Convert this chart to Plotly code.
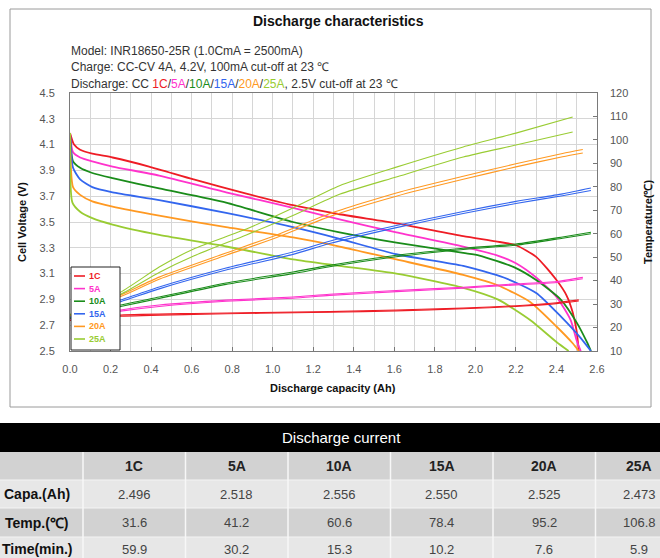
import plotly.graph_objects as go

# ---------------- data ----------------
rates = ["1C", "5A", "10A", "15A", "20A", "25A"]
colors = ["#ee1c25", "#ff33cc", "#1a8c1a", "#3366ee", "#ff9922", "#99cc33"]

# discharge voltage curves (capacity Ah, voltage V)
v_cap_1C = [0, 0.02, 0.05, 0.11, 0.21, 0.39, 0.61, 0.87, 1.10, 1.33, 1.61, 1.94, 2.10, 2.20, 2.30, 2.40, 2.45, 2.48, 2.50, 2.51]
v_1C = [4.19, 4.10, 4.06, 4.03, 4.00, 3.93, 3.83, 3.72, 3.63, 3.56, 3.49, 3.39, 3.35, 3.32, 3.23, 3.05, 2.93, 2.80, 2.65, 2.50]
v_cap_5A = [0, 0.015, 0.05, 0.11, 0.21, 0.44, 0.77, 1.10, 1.33, 1.61, 1.94, 2.11, 2.20, 2.30, 2.40, 2.47, 2.50, 2.52]
v_5A = [4.19, 4.04, 4.00, 3.97, 3.93, 3.86, 3.73, 3.61, 3.52, 3.42, 3.31, 3.24, 3.18, 3.07, 2.92, 2.74, 2.58, 2.50]
v_cap_10A = [0, 0.015, 0.05, 0.11, 0.21, 0.44, 0.77, 1.10, 1.33, 1.61, 1.94, 2.02, 2.19, 2.30, 2.42, 2.50, 2.55, 2.57]
v_10A = [4.19, 3.97, 3.92, 3.88, 3.84, 3.76, 3.65, 3.50, 3.42, 3.34, 3.26, 3.24, 3.15, 3.05, 2.90, 2.72, 2.57, 2.50]
v_cap_15A = [0, 0.015, 0.05, 0.11, 0.21, 0.44, 0.77, 1.10, 1.33, 1.61, 1.94, 2.14, 2.30, 2.42, 2.52, 2.57]
v_15A = [4.19, 3.92, 3.83, 3.77, 3.73, 3.67, 3.57, 3.46, 3.37, 3.25, 3.16, 3.07, 2.95, 2.77, 2.60, 2.50]
v_cap_20A = [0, 0.015, 0.05, 0.11, 0.21, 0.44, 0.77, 1.10, 1.33, 1.61, 1.94, 2.11, 2.27, 2.40, 2.48, 2.51]
v_20A = [4.19, 3.77, 3.71, 3.66, 3.62, 3.55, 3.46, 3.38, 3.31, 3.21, 3.09, 3.01, 2.88, 2.69, 2.56, 2.50]
v_cap_25A = [0, 0.012, 0.05, 0.11, 0.21, 0.44, 0.77, 1.10, 1.33, 1.61, 1.94, 2.11, 2.27, 2.40, 2.46]
v_25A = [4.19, 3.65, 3.58, 3.53, 3.48, 3.40, 3.31, 3.21, 3.16, 3.10, 2.99, 2.90, 2.74, 2.57, 2.50]

# temperature curves (two cells per rate)
t_cap_1C = [0, 0.25, 0.61, 0.94, 1.28, 1.61, 1.94, 2.20, 2.40, 2.51]
t_1C_a = [23.0, 25.3, 26.0, 26.4, 26.8, 27.5, 28.3, 29.3, 30.6, 31.8]
t_1C_b = [23.0, 24.8, 25.6, 26.1, 26.5, 27.1, 28.0, 29.0, 30.2, 31.3]
t_cap_5A = [0, 0.25, 0.44, 0.77, 1.10, 1.28, 1.61, 1.94, 2.20, 2.40, 2.53]
t_5A_a = [23.5, 27.5, 29.6, 31.7, 33.0, 34.2, 35.8, 37.2, 38.6, 39.6, 41.4]
t_5A_b = [23.5, 27.0, 29.0, 31.2, 32.5, 33.7, 35.3, 36.8, 38.2, 39.2, 40.8]
t_cap_10A = [0, 0.25, 0.44, 0.77, 1.10, 1.28, 1.61, 1.94, 2.20, 2.43, 2.57]
t_10A_a = [24.0, 29.6, 33.0, 39.0, 43.7, 46.5, 50.8, 53.8, 55.6, 58.6, 60.6]
t_10A_b = [24.0, 29.0, 32.4, 38.4, 43.0, 45.9, 50.2, 53.3, 55.1, 58.1, 60.0]
t_cap_15A = [0, 0.25, 0.44, 0.77, 1.10, 1.28, 1.61, 1.94, 2.20, 2.43, 2.57]
t_15A_a = [24.5, 31.7, 37.3, 45.4, 52.2, 56.8, 63.5, 69.5, 73.8, 77.0, 79.5]
t_15A_b = [24.5, 31.0, 36.5, 44.5, 51.2, 55.8, 62.6, 68.6, 72.9, 76.2, 78.4]
t_cap_20A = [0, 0.25, 0.44, 0.77, 1.02, 1.28, 1.61, 1.94, 2.20, 2.43, 2.53]
t_20A_a = [25.0, 33.9, 41.5, 51.8, 59.5, 68.5, 77.4, 84.5, 89.8, 94.2, 95.9]
t_20A_b = [25.0, 33.2, 40.6, 50.8, 58.4, 67.3, 76.0, 83.2, 88.5, 92.8, 94.4]
t_cap_25A = [0, 0.25, 0.44, 0.61, 0.87, 1.10, 1.33, 1.61, 1.94, 2.20, 2.48]
t_25A_a = [25.5, 35.1, 45.8, 53.5, 62.0, 71.0, 80.5, 88.4, 97.0, 102.9, 109.8]
t_25A_b = [25.5, 34.2, 43.5, 50.5, 59.5, 67.8, 76.8, 84.2, 92.7, 97.8, 103.4]

x_ticks = [0.0, 0.2, 0.4, 0.6, 0.8, 1.0, 1.2, 1.4, 1.6, 1.8, 2.0, 2.2, 2.4, 2.6]

# table
table_title = "Discharge current"
row_labels = ["Capa.(Ah)", "Temp.(℃)", "Time(min.)"]
capa_vals = ["2.496", "2.518", "2.556", "2.550", "2.525", "2.473"]
temp_vals = ["31.6", "41.2", "60.6", "78.4", "95.2", "106.8"]
time_vals = ["59.9", "30.2", "15.3", "10.2", "7.6", "5.9"]

volt_series = [(v_cap_1C, v_1C), (v_cap_5A, v_5A), (v_cap_10A, v_10A),
               (v_cap_15A, v_15A), (v_cap_20A, v_20A), (v_cap_25A, v_25A)]
temp_series = [(t_cap_1C, t_1C_a, t_1C_b), (t_cap_5A, t_5A_a, t_5A_b),
               (t_cap_10A, t_10A_a, t_10A_b), (t_cap_15A, t_15A_a, t_15A_b),
               (t_cap_20A, t_20A_a, t_20A_b), (t_cap_25A, t_25A_a, t_25A_b)]

# ---------------- layout helpers ----------------
W, H = 660, 558
ML, MR, MT, MB = 70, 63, 93, 207
PW, PH = W - ML - MR, H - MT - MB


def xp(px):
    return (px - ML) / PW


def yp(py):
    return (H - MB - py) / PH


FONT = "Liberation Sans, Arial, sans-serif"


def ann(text, px, py, size, color, xanchor="center", angle=0):
    return dict(text=text, x=xp(px), y=yp(py), xref="paper", yref="paper",
                showarrow=False, xanchor=xanchor, yanchor="middle", textangle=angle,
                font=dict(family=FONT, size=size, color=color))


fig = go.Figure()

for (cx, cy), name, col in zip(volt_series, rates, colors):
    fig.add_trace(go.Scatter(x=cx, y=cy, mode="lines", name=name,
                             line=dict(color=col, width=1.8, shape="spline", smoothing=0.6),
                             showlegend=False, yaxis="y"))
for (cx, ta, tb), name, col in zip(temp_series, rates, colors):
    for tt in (ta, tb):
        fig.add_trace(go.Scatter(x=cx, y=tt, mode="lines", name=name + " temp",
                                 line=dict(color=col, width=1.1, shape="spline", smoothing=0.6),
                                 showlegend=False, yaxis="y2"))

shapes = []
annotations = []

# outer chart box
shapes.append(dict(type="rect", xref="paper", yref="paper", x0=xp(10), x1=xp(651),
                   y0=yp(407), y1=yp(9), line=dict(color="#9a9a9a", width=1), layer="below"))

# title + header text
annotations.append(ann("<b>Discharge characteristics</b>", 338, 21, 14, "#111"))
annotations.append(ann("Model: INR18650-25R (1.0CmA = 2500mA)", 69, 51, 12, "#333", "left"))
annotations.append(ann("Charge: CC-CV 4A, 4.2V, 100mA cut-off at 23 ℃", 69, 67, 12, "#333", "left"))
colored = "/".join(f"<span style='color:{c}'>{r}</span>" for r, c in zip(rates, colors))
annotations.append(ann(f"Discharge: CC {colored}, 2.5V cut-off at 23 ℃", 69, 84, 12, "#333", "left"))

# axis titles
annotations.append(ann("<b>Cell Voltage (V)</b>", 22, 222, 11, "#111", angle=-90))
annotations.append(ann("<b>Temperature(℃)</b>", 648, 222, 11, "#111", angle=-90))
annotations.append(ann("<b>Discharge capacity (Ah)</b>", 333, 388, 11, "#111"))

# legend box (manual)
shapes.append(dict(type="rect", xref="paper", yref="paper", x0=xp(71), x1=xp(120),
                   y0=yp(350), y1=yp(267), fillcolor="white",
                   line=dict(color="#222", width=1), layer="above"))
for i, (r, c) in enumerate(zip(rates, colors)):
    yy = 276 + i * 12.6
    shapes.append(dict(type="line", xref="paper", yref="paper", x0=xp(74), x1=xp(85),
                       y0=yp(yy), y1=yp(yy), line=dict(color=c, width=1.6), layer="above"))
    annotations.append(ann(f"<b>{r}</b>", 87, yy, 9, c, "left"))

# ---------------- table ----------------
col_left = 83
col_w = 102.5
band_top, band_bot = 423, 452
rows_y = [(452, 480), (480, 508), (508, 537), (537, 566)]
row_mid = [466, 494, 522.5, 549]
row_fill = ["#d2d2d2", "#e7e7e7", "#d2d2d2", "#e7e7e7"]

shapes.append(dict(type="rect", xref="paper", yref="paper", x0=xp(-5), x1=xp(700),
                   y0=yp(band_bot), y1=yp(band_top), fillcolor="black", line=dict(width=0)))
annotations.append(ann(table_title, 341, 437.5, 15, "white"))
for (t0, t1), fc in zip(rows_y, row_fill):
    shapes.append(dict(type="rect", xref="paper", yref="paper", x0=xp(-5), x1=xp(700),
                       y0=yp(t1), y1=yp(t0), fillcolor=fc, line=dict(width=0)))
for k in range(1, len(rows_y)):
    shapes.append(dict(type="line", xref="paper", yref="paper", x0=xp(-5), x1=xp(700),
                       y0=yp(rows_y[k][0]), y1=yp(rows_y[k][0]),
                       line=dict(color="#f4f4f4", width=1)))
for j in range(len(rates) + 1):
    xx = col_left + j * col_w
    shapes.append(dict(type="line", xref="paper", yref="paper", x0=xp(xx), x1=xp(xx),
                       y0=yp(566), y1=yp(452), line=dict(color="#f7f7f7", width=1.5)))

for j, r in enumerate(rates):
    cx = col_left + (j + 0.5) * col_w
    if j == len(rates) - 1:
        cx = 639  # keep the last column's text inside the page
    annotations.append(ann(f"<b>{r}</b>", cx, row_mid[0], 14, "#222"))
    for vals, ym in zip([capa_vals, temp_vals, time_vals], row_mid[1:]):
        annotations.append(ann(vals[j], cx, ym, 13, "#444"))
for lab, ym in zip(row_labels, row_mid[1:]):
    annotations.append(ann(f"<b>{lab}</b>", 37, ym, 14, "#111"))

grid = "#d6d6d6"
fig.update_layout(
    width=W, height=H,
    margin=dict(l=ML, r=MR, t=MT, b=MB),
    paper_bgcolor="white", plot_bgcolor="white",
    showlegend=False,
    shapes=shapes, annotations=annotations,
    xaxis=dict(range=[0, 2.6], tickvals=x_ticks, ticktext=[f"{v:.1f}" for v in x_ticks],
               showgrid=True, gridcolor=grid, gridwidth=1,
               minor=dict(dtick=0.1, tick0=0, showgrid=True, gridcolor=grid, gridwidth=1),
               ticks="inside", ticklen=4, tickcolor="#777",
               showline=True, linecolor="#7a7a7a", linewidth=1, mirror=True, zeroline=False,
               ticklabelstandoff=8,
               tickfont=dict(family=FONT, size=11, color="#555"), fixedrange=True),
    yaxis=dict(range=[2.5, 4.5], dtick=0.2, tick0=2.5, tickformat=".1f",
               showgrid=True, gridcolor=grid, gridwidth=1, ticks="",
               showline=True, linecolor="#7a7a7a", linewidth=1, mirror=True, zeroline=False,
               ticklabelstandoff=12,
               tickfont=dict(family=FONT, size=11, color="#555")),
    yaxis2=dict(range=[10, 120], dtick=10, tick0=10, overlaying="y", side="right",
                showgrid=False, ticks="inside", ticklen=4, tickcolor="#777", zeroline=False,
                ticklabelstandoff=12,
                tickfont=dict(family=FONT, size=11, color="#555")),
)

fig.write_html("out.html")
